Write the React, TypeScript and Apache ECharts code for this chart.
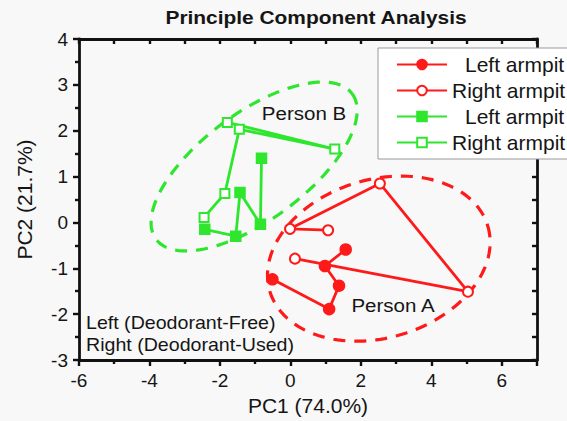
import React, { useEffect, useRef } from 'react';
import * as echarts from 'echarts';

const TITLE = 'Principle Component Analysis';
const X_NAME = 'PC1 (74.0%)';
const Y_NAME = 'PC2 (21.7%)';
const SERIES_NAMES = ['A-Left', 'A-Right', 'B-Left', 'B-Right'];
const LEGEND_LABELS = ['Left armpit', 'Right armpit', 'Left armpit', 'Right armpit'];
const NOTE_LINES = ['Left (Deodorant-Free)', 'Right (Deodorant-Used)'];
const GROUP_LABELS = ['Person A', 'Person B'];

// Person A (red)
const personALeft: number[][] = [[-0.51, -1.24], [1.10, -1.89], [1.38, -1.38], [0.98, -0.95], [1.57, -0.59]];
const personARight: number[][] = [[1.07, -0.17], [-0.01, -0.14], [2.54, 0.85], [5.04, -1.51], [0.13, -0.79]];
// Person B (green)
const personBLeft: number[][] = [[-2.43, -0.15], [-1.55, -0.30], [-1.43, 0.65], [-0.85, -0.04], [-0.82, 1.40]];
const personBRight: number[][] = [[-2.45, 0.11], [-1.86, 0.63], [-1.45, 2.03], [1.26, 1.60], [-1.79, 2.18]];

// confidence ellipses: centre and two conjugate semi-axis vectors, in data units
const ellipseA = { center: [2.51, -0.79], u: [3.09, 0.72], v: [0.66, -1.65] };
const ellipseB = { center: [-1.03, 1.22], u: [2.78, 1.59], v: [0.91, -0.93] };

const RED = '#ff1a1a';
const GREEN = '#2ee62e';
const FONT = 'Liberation Sans, Arial, sans-serif';
const INK = '#151515';

function ellipseSeries(e: { center: number[]; u: number[]; v: number[] }, color: string) {
  return {
    type: 'custom',
    coordinateSystem: 'cartesian2d',
    silent: true,
    z: 1,
    data: [e.center],
    renderItem: (_params: any, api: any) => {
      const pts: number[][] = [];
      const N = 160;
      for (let i = 0; i <= N; i++) {
        const t = (i / N) * Math.PI * 2;
        const x = e.center[0] + e.u[0] * Math.cos(t) + e.v[0] * Math.sin(t);
        const y = e.center[1] + e.u[1] * Math.cos(t) + e.v[1] * Math.sin(t);
        pts.push(api.coord([x, y]));
      }
      return {
        type: 'polyline',
        shape: { points: pts },
        style: { stroke: color, lineWidth: 3.2, lineDash: [12, 9], fill: null },
      };
    },
  };
}

function lineSeries(name: string, data: number[][], color: string, symbol: string, size: number) {
  return {
    name,
    type: 'line',
    data,
    z: 3,
    symbol,
    symbolSize: size,
    showAllSymbol: true,
    lineStyle: { color, width: 2.8 },
    itemStyle: { color, borderColor: color, borderWidth: 1.5 },
  };
}

const axisLineStyle = { color: '#111', width: 2.8 };
const tickStyle = { color: '#111', width: 2.4 };

export default function App() {
  const ref = useRef<HTMLDivElement>(null);
  useEffect(() => {
    if (!ref.current) return;
    const chart = echarts.init(ref.current, undefined, { renderer: 'svg' });
    const labelMap: Record<string, string> = {};
    SERIES_NAMES.forEach((n, i) => (labelMap[n] = LEGEND_LABELS[i]));

    const xBase = {
      type: 'value',
      min: -6,
      max: 7,
      interval: 2,
      splitLine: { show: false },
      minorSplitLine: { show: false },
      axisLine: { show: true, onZero: false, lineStyle: axisLineStyle },
    };
    const yBase = {
      type: 'value',
      min: -3,
      max: 4,
      interval: 1,
      splitLine: { show: false },
      minorSplitLine: { show: false },
      axisLine: { show: true, onZero: false, lineStyle: axisLineStyle },
    };

    chart.setOption({
      animation: false,
      backgroundColor: '#f8f8f8',
      textStyle: { fontFamily: FONT },
      grid: { left: 79, right: 30, top: 39, bottom: 58, containLabel: false },
      xAxis: [
        {
          ...xBase,
          position: 'bottom',
          name: X_NAME,
          nameLocation: 'middle',
          nameGap: 35,
          nameTextStyle: { fontSize: 21, color: INK, fontFamily: FONT },
          axisTick: { show: true, length: 6, lineStyle: tickStyle },
          minorTick: { show: true, splitNumber: 2, length: 4, lineStyle: tickStyle },
          axisLabel: {
            fontSize: 19,
            color: INK,
            fontFamily: FONT,
            margin: 11,
            showMaxLabel: false,
            formatter: (v: number) => (v === 7 ? '' : String(v)),
          },
        },
        {
          ...xBase,
          position: 'top',
          axisTick: { show: true, inside: true, length: 5, lineStyle: tickStyle },
          minorTick: { show: true, splitNumber: 2, length: 5, lineStyle: tickStyle },
          axisLabel: { show: false },
        },
      ],
      yAxis: [
        {
          ...yBase,
          position: 'left',
          name: Y_NAME,
          nameLocation: 'middle',
          nameGap: 44,
          nameTextStyle: { fontSize: 21, color: INK, fontFamily: FONT },
          axisTick: { show: true, length: 6, lineStyle: tickStyle },
          minorTick: { show: true, splitNumber: 2, length: 4, lineStyle: tickStyle },
          axisLabel: { fontSize: 19, color: INK, fontFamily: FONT, margin: 11 },
        },
        {
          ...yBase,
          position: 'right',
          axisTick: { show: true, inside: true, length: 5, lineStyle: tickStyle },
          minorTick: { show: true, splitNumber: 2, length: 5, lineStyle: tickStyle },
          axisLabel: { show: false },
        },
      ],
      legend: {
        data: SERIES_NAMES,
        orient: 'vertical',
        left: 378,
        top: 48,
        padding: [6, 6, 6, 18],
        itemGap: 5,
        itemWidth: 50,
        itemHeight: 12,
        backgroundColor: '#ffffff',
        borderColor: '#9a9a9a',
        borderWidth: 1,
        borderRadius: 0,
        formatter: (name: string) => {
          const label = labelMap[name];
          return label.startsWith('Left') ? `{l|${label}}` : `{r|${label}}`;
        },
        textStyle: {
          fontSize: 21,
          color: INK,
          fontFamily: FONT,
          rich: {
            l: { fontSize: 21, color: INK, fontFamily: FONT, lineHeight: 24, padding: [0, 0, 0, 13] },
            r: { fontSize: 21, color: INK, fontFamily: FONT, lineHeight: 24 },
          },
        },
      },
      graphic: [
        {
          type: 'text',
          x: 316,
          y: 17,
          scaleX: 1.1,
          style: { text: TITLE, fill: INK, font: `bold 19px ${FONT}`, textAlign: 'center', textVerticalAlign: 'middle' },
        },
        {
          type: 'text',
          x: 304,
          y: 113,
          scaleX: 1.08,
          style: { text: GROUP_LABELS[1], fill: INK, font: `19px ${FONT}`, textAlign: 'center', textVerticalAlign: 'middle' },
        },
        {
          type: 'text',
          x: 393,
          y: 305,
          scaleX: 1.08,
          style: { text: GROUP_LABELS[0], fill: INK, font: `19px ${FONT}`, textAlign: 'center', textVerticalAlign: 'middle' },
        },
        {
          type: 'text',
          x: 86,
          y: 323,
          scaleX: 1.06,
          style: { text: NOTE_LINES[0], fill: INK, font: `18.5px ${FONT}`, textAlign: 'left', textVerticalAlign: 'middle' },
        },
        {
          type: 'text',
          x: 86,
          y: 345,
          scaleX: 1.06,
          style: { text: NOTE_LINES[1], fill: INK, font: `18.5px ${FONT}`, textAlign: 'left', textVerticalAlign: 'middle' },
        },
      ],
      series: [
        ellipseSeries(ellipseA, RED),
        ellipseSeries(ellipseB, GREEN),
        lineSeries(SERIES_NAMES[0], personALeft, RED, 'circle', 11),
        lineSeries(SERIES_NAMES[1], personARight, RED, 'emptyCircle', 10),
        lineSeries(SERIES_NAMES[2], personBLeft, GREEN, 'rect', 10),
        lineSeries(SERIES_NAMES[3], personBRight, GREEN, 'emptyRect', 9),
      ],
    });
    return () => chart.dispose();
  }, []);
  return <div ref={ref} style={{ position: 'fixed', left: 0, top: 0, width: 567, height: 421 }} />;
}
